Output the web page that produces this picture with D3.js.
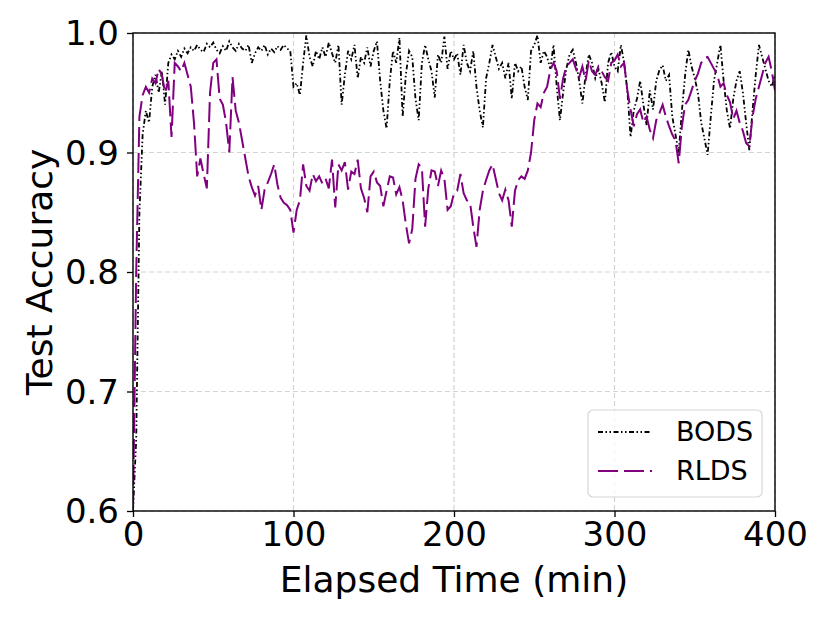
<!DOCTYPE html>
<html>
<head>
<meta charset="utf-8">
<script src="https://cdn.jsdelivr.net/npm/d3@7"></script>
<style>
  body { margin: 0; background: #fff; }
  text { font-family: "DejaVu Sans", sans-serif; }
</style>
</head>
<body>
<svg id="chart" width="830" height="623"></svg>
<script>
// sample interval of both runs, minutes
const step = 2;

const bods = [
  0.600, 0.660, 0.850, 0.915, 0.935, 0.925, 0.955, 0.965, 0.950, 0.968,
  0.940, 0.975, 0.982, 0.978, 0.985, 0.980, 0.987, 0.983, 0.988, 0.985,
  0.990, 0.986, 0.984, 0.991, 0.988, 0.992, 0.986, 0.983, 0.989, 0.985,
  0.993, 0.988, 0.985, 0.991, 0.987, 0.985, 0.990, 0.975, 0.983, 0.988,
  0.985, 0.990, 0.982, 0.987, 0.984, 0.989, 0.986, 0.990, 0.987, 0.985,
  0.955, 0.958, 0.948, 0.975, 0.998, 0.980, 0.972, 0.985, 0.978, 0.988,
  0.980, 0.992, 0.983, 0.975, 0.990, 0.940, 0.965, 0.985, 0.978, 0.990,
  0.962, 0.980, 0.975, 0.988, 0.972, 0.985, 0.993, 0.960, 0.935, 0.920,
  0.960, 0.985, 0.975, 0.996, 0.930, 0.965, 0.985, 0.980, 0.945, 0.927,
  0.975, 0.990, 0.978, 0.968, 0.946, 0.982, 0.975, 0.997, 0.970, 0.985,
  0.978, 0.983, 0.965, 0.990, 0.975, 0.968, 0.985, 0.955, 0.935, 0.921,
  0.962, 0.975, 0.990, 0.980, 0.970, 0.975, 0.962, 0.975, 0.945, 0.975,
  0.968, 0.972, 0.955, 0.944, 0.985, 0.990, 0.998, 0.975, 0.985, 0.980,
  0.970, 0.990, 0.955, 0.927, 0.950, 0.970, 0.982, 0.986, 0.975, 0.960,
  0.941, 0.965, 0.982, 0.975, 0.962, 0.970, 0.958, 0.942, 0.975, 0.984,
  0.972, 0.968, 0.990, 0.975, 0.952, 0.913, 0.935, 0.945, 0.960, 0.940,
  0.923, 0.952, 0.936, 0.960, 0.969, 0.973, 0.960, 0.965, 0.930, 0.915,
  0.900, 0.935, 0.965, 0.986, 0.972, 0.962, 0.950, 0.925, 0.912, 0.898,
  0.930, 0.960, 0.975, 0.990, 0.960, 0.935, 0.920, 0.945, 0.960, 0.968,
  0.950, 0.925, 0.902, 0.935, 0.965, 0.990, 0.980, 0.970, 0.960, 0.955,
  0.965
];

const rlds = [
  0.600, 0.800, 0.930, 0.948, 0.955, 0.950, 0.962, 0.958, 0.970, 0.965,
  0.950, 0.960, 0.913, 0.975, 0.972, 0.968, 0.975, 0.965, 0.955, 0.925,
  0.880, 0.895, 0.882, 0.870, 0.950, 0.975, 0.978, 0.945, 0.940, 0.925,
  0.900, 0.963, 0.935, 0.925, 0.910, 0.895, 0.880, 0.871, 0.864, 0.872,
  0.852, 0.869, 0.875, 0.882, 0.890, 0.873, 0.862, 0.858, 0.856, 0.852,
  0.833, 0.852, 0.860, 0.890, 0.872, 0.868, 0.882, 0.876, 0.880, 0.874,
  0.878, 0.870, 0.894, 0.854, 0.890, 0.885, 0.892, 0.869, 0.884, 0.882,
  0.894, 0.870, 0.862, 0.850, 0.880, 0.884, 0.875, 0.872, 0.855, 0.868,
  0.880, 0.879, 0.865, 0.871, 0.860, 0.840, 0.824, 0.836, 0.878, 0.890,
  0.887, 0.838, 0.870, 0.885, 0.884, 0.872, 0.885, 0.878, 0.852, 0.855,
  0.866, 0.868, 0.882, 0.866, 0.860, 0.858, 0.838, 0.821, 0.852, 0.868,
  0.877, 0.885, 0.890, 0.878, 0.866, 0.860, 0.869, 0.860, 0.838, 0.868,
  0.877, 0.880, 0.878, 0.885, 0.900, 0.927, 0.941, 0.938, 0.950, 0.955,
  0.969, 0.975, 0.968, 0.945, 0.962, 0.972, 0.975, 0.978, 0.970, 0.963,
  0.972, 0.960, 0.977, 0.968, 0.965, 0.972, 0.968, 0.963, 0.960, 0.975,
  0.977, 0.982, 0.972, 0.975, 0.952, 0.936, 0.922, 0.932, 0.936, 0.925,
  0.930, 0.919, 0.912, 0.927, 0.933, 0.940, 0.930, 0.922, 0.915, 0.910,
  0.891, 0.922, 0.940, 0.944, 0.952, 0.960, 0.966, 0.975, 0.979, 0.980,
  0.975, 0.970, 0.965, 0.955, 0.958, 0.948, 0.942, 0.928, 0.935, 0.925,
  0.918, 0.908, 0.905, 0.930, 0.945, 0.955, 0.965, 0.975, 0.980, 0.968,
  0.952
];

const xTicks = [0, 100, 200, 300, 400];
const yTicks = [0.6, 0.7, 0.8, 0.9, 1.0];

const seriesList = [
  { name: 'BODS', values: bods, color: '#000000', width: 1.8, dash: '5,2.5,1.5,2.5,1.5,2.5' },
  { name: 'RLDS', values: rlds, color: '#800080', width: 2, dash: '20,6' }
];

const svg = d3.select('#chart');
const margin = { top: 33, right: 55, bottom: 112, left: 133 };
const width = +svg.attr('width') - margin.left - margin.right;
const height = +svg.attr('height') - margin.top - margin.bottom;

const x = d3.scaleLinear().domain([0, 400]).range([0, width]);
const y = d3.scaleLinear().domain([0.6, 1.0]).range([height, 0]);

const g = svg.append('g')
  .attr('transform', `translate(${margin.left},${margin.top})`);

svg.append('defs').append('clipPath')
  .attr('id', 'plot-clip')
  .append('rect')
  .attr('width', width)
  .attr('height', height);

// grid
g.append('g')
  .selectAll('line')
  .data(xTicks)
  .enter()
  .append('line')
  .attr('x1', d => x(d))
  .attr('x2', d => x(d))
  .attr('y1', 0)
  .attr('y2', height)
  .attr('stroke', '#d3d3d3')
  .attr('stroke-width', 1.2)
  .attr('stroke-dasharray', '5,3');

g.append('g')
  .selectAll('line')
  .data(yTicks)
  .enter()
  .append('line')
  .attr('x1', 0)
  .attr('x2', width)
  .attr('y1', d => y(d))
  .attr('y2', d => y(d))
  .attr('stroke', '#d3d3d3')
  .attr('stroke-width', 1.2)
  .attr('stroke-dasharray', '5,3');

const line = d3.line()
  .x((d, i) => x(i * step))
  .y(d => y(d));

g.append('g')
  .attr('clip-path', 'url(#plot-clip)')
  .selectAll('path')
  .data(seriesList)
  .enter()
  .append('path')
  .attr('d', d => line(d.values))
  .attr('fill', 'none')
  .attr('stroke', d => d.color)
  .attr('stroke-width', d => d.width)
  .attr('stroke-dasharray', d => d.dash);

// axes
const xAxis = g.append('g')
  .attr('transform', `translate(0,${height})`)
  .call(d3.axisBottom(x).tickValues(xTicks).tickSize(6).tickPadding(5).tickFormat(d3.format('d')));

const yAxis = g.append('g')
  .call(d3.axisLeft(y).tickValues(yTicks).tickSize(6).tickPadding(8).tickFormat(d3.format('.1f')));

[xAxis, yAxis].forEach(a => {
  a.select('.domain').remove();
  a.selectAll('line').attr('stroke', '#000').attr('stroke-width', 1.3);
  a.selectAll('text')
    .attr('fill', '#000')
    .style('font-size', '34px')
    .style('font-family', '"DejaVu Sans", sans-serif');
});
yAxis.selectAll('text').attr('dy', '0.35em');

g.append('rect')
  .attr('width', width)
  .attr('height', height)
  .attr('fill', 'none')
  .attr('stroke', '#000')
  .attr('stroke-width', 1.4);

svg.append('text')
  .attr('x', margin.left + width / 2)
  .attr('y', 592)
  .attr('text-anchor', 'middle')
  .style('font-size', '36px')
  .text('Elapsed Time (min)');

svg.append('text')
  .attr('transform', `translate(52,${margin.top + height / 2}) rotate(-90)`)
  .attr('text-anchor', 'middle')
  .style('font-size', '36px')
  .text('Test Accuracy');

// legend
const legend = g.append('g')
  .attr('transform', `translate(${width - 187},${height - 101})`);

legend.append('rect')
  .attr('width', 174)
  .attr('height', 87)
  .attr('rx', 5)
  .attr('fill', '#fff')
  .attr('fill-opacity', 0.8)
  .attr('stroke', '#d6d6d6')
  .attr('stroke-width', 1.2);

const items = legend.selectAll('.item')
  .data(seriesList)
  .enter()
  .append('g')
  .attr('class', 'item')
  .attr('transform', (d, i) => `translate(10,${22 + i * 39})`);

items.append('line')
  .attr('x1', 0)
  .attr('x2', 54)
  .attr('stroke', d => d.color)
  .attr('stroke-width', d => d.width)
  .attr('stroke-dasharray', d => d.dash);

items.append('text')
  .attr('x', 78)
  .attr('dy', '0.35em')
  .style('font-size', '27px')
  .text(d => d.name);
</script>
</body>
</html>
